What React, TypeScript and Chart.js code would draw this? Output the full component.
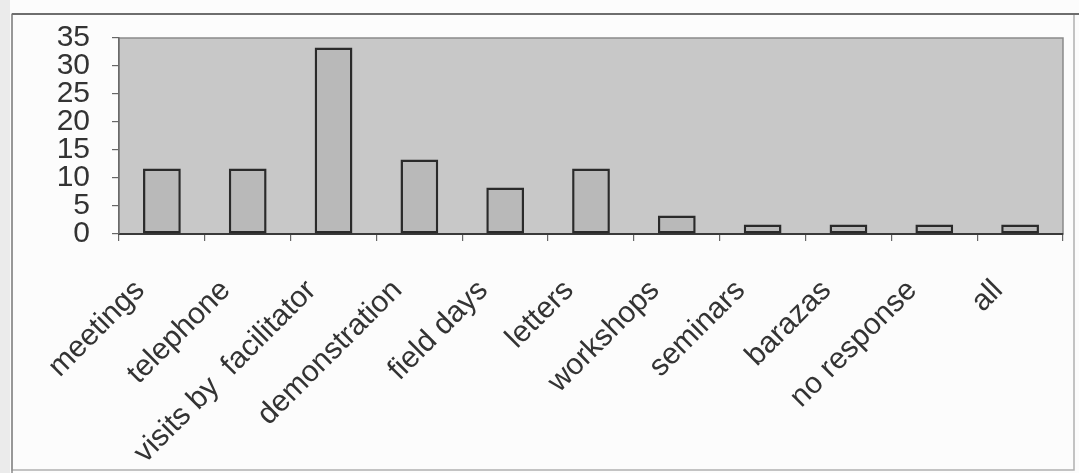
import React, { useEffect, useRef } from 'react';
import { Chart, registerables } from 'chart.js';

Chart.register(...registerables);

// Communication channels and share of respondents (%)
const categories = [
  'meetings',
  'telephone',
  'visits by  facilitator',
  'demonstration',
  'field days',
  'letters',
  'workshops',
  'seminars',
  'barazas',
  'no response',
  'all',
];
const percentages = [11.7, 11.7, 33.3, 13.3, 8.3, 11.7, 3.3, 1.7, 1.7, 1.7, 1.7];
const yTickValues = [0, 5, 10, 15, 20, 25, 30, 35];

const W = 1079;
const H = 473;
const FONT = "'Liberation Sans', Arial, sans-serif";

// Page sheet, frame and grey plot panel behind the bars
const panelPlugin = {
  id: 'panel',
  beforeDraw(chart: any) {
    const { ctx, chartArea } = chart;
    ctx.save();
    ctx.fillStyle = '#fcfcfc';
    ctx.fillRect(0, 0, W, H);
    ctx.fillStyle = '#ebebeb';
    ctx.fillRect(0, 0, 10, H);
    // frame
    ctx.strokeStyle = '#b0b0b0';
    ctx.lineWidth = 1.5;
    ctx.strokeRect(12, 14, 1062, 456);
    ctx.strokeStyle = '#8a8a8a';
    ctx.beginPath();
    ctx.moveTo(12, 14);
    ctx.lineTo(12, H);
    ctx.stroke();
    ctx.strokeStyle = '#6e6e6e';
    ctx.lineWidth = 2;
    ctx.beginPath();
    ctx.moveTo(12, 14);
    ctx.lineTo(W, 14);
    ctx.stroke();
    // plot panel
    const { left, top, right, bottom } = chartArea;
    ctx.fillStyle = '#c8c8c8';
    ctx.fillRect(left, top, right - left, bottom - top);
    ctx.strokeStyle = '#8a8a8a';
    ctx.lineWidth = 1.5;
    ctx.strokeRect(left, top, right - left, bottom - top);
    ctx.restore();
  },
};

export default function App() {
  const ref = useRef<HTMLCanvasElement | null>(null);

  useEffect(() => {
    if (!ref.current) return;
    const chart = new Chart(ref.current, {
      type: 'bar',
      data: {
        labels: categories,
        datasets: [
          {
            data: percentages,
            backgroundColor: '#b9b9b9',
            borderColor: '#2a2a2a',
            borderWidth: 2.5,
            borderSkipped: false,
            categoryPercentage: 1,
            barPercentage: 0.44,
          },
        ],
      },
      options: {
        responsive: false,
        animation: false,
        devicePixelRatio: 1,
        layout: { padding: { left: 0, right: 16, top: 38, bottom: 0 } },
        plugins: {
          legend: { display: false },
          tooltip: { enabled: false },
        },
        scales: {
          x: {
            afterFit(scale: any) {
              scale.height = H - 234;
            },
            grid: {
              display: true,
              offset: true,
              drawOnChartArea: false,
              drawTicks: true,
              tickLength: 7,
              color: '#666',
              lineWidth: 1.2,
            },
            border: { display: true, color: '#3a3a3a', width: 2 },
            ticks: {
              minRotation: 45,
              maxRotation: 45,
              autoSkip: false,
              padding: 32,
              labelOffset: -22,
              color: '#333',
              font: { family: FONT, size: 30 },
            },
          },
          y: {
            min: 0,
            max: 35,
            afterFit(scale: any) {
              scale.width = 119;
            },
            afterBuildTicks(scale: any) {
              scale.ticks = yTickValues.map((v) => ({ value: v }));
            },
            grid: {
              display: true,
              drawOnChartArea: false,
              drawTicks: true,
              tickLength: 7,
              color: '#666',
              lineWidth: 1.2,
            },
            border: { display: true, color: '#6a6a6a', width: 1.5 },
            ticks: {
              autoSkip: false,
              padding: 22,
              color: '#333',
              font: { family: FONT, size: 30, lineHeight: 1 },
            },
          },
        },
      },
      plugins: [panelPlugin],
    });
    return () => chart.destroy();
  }, []);

  return (
    <canvas
      ref={ref}
      width={W}
      height={H}
      style={{ position: 'fixed', left: 0, top: 0, width: W, height: H, display: 'block' }}
    />
  );
}
